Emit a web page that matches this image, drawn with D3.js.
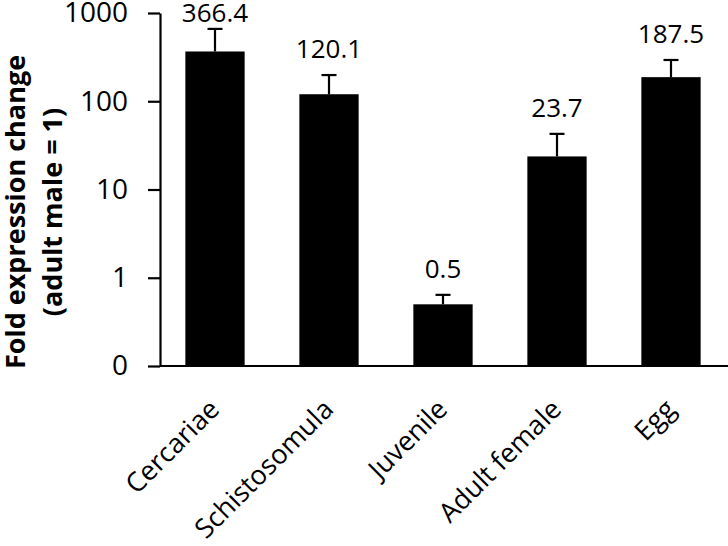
<!DOCTYPE html>
<html>
<head>
<meta charset="utf-8">
<script src="https://cdn.jsdelivr.net/npm/d3@7"></script>
<style>
  html, body { margin: 0; padding: 0; background: #fff; }
  svg { display: block; }
  text { font-family: "Open Sans", "Noto Sans", sans-serif; fill: #000; }
</style>
</head>
<body>
<svg id="chart" width="728" height="546"></svg>
<script>
// ---- data ----
const categories = ["Cercariae", "Schistosomula", "Juvenile", "Adult female", "Egg"];
const values = [366.4, 120.1, 0.5, 23.7, 187.5];
const errors = [294, 78, 0.14, 19, 106];
const valueLabels = ["366.4", "120.1", "0.5", "23.7", "187.5"];
const yTickValues = [0.1, 1, 10, 100, 1000];
const yTickLabels = ["0", "1", "10", "100", "1000"];
const yTitleLines = ["Fold expression change", "(adult male = 1)"];

// ---- layout ----
const svg = d3.select("#chart");
const axisX = 160, baseY = 366, topY = 13, rightX = 728;

const y = d3.scaleLog().domain([0.1, 1000]).range([baseY, topY]);
const x = d3.scaleBand().domain(categories).range([158, 728])
  .paddingInner(0.48).paddingOuter(0.24);

const fs = 27;

// bars
svg.append("g").selectAll("rect").data(categories).join("rect")
  .attr("x", d => x(d))
  .attr("width", x.bandwidth())
  .attr("y", (d, i) => y(values[i]))
  .attr("height", (d, i) => baseY - y(values[i]))
  .attr("fill", "#000");

// error bars (upper only)
const eg = svg.append("g").attr("stroke", "#000").attr("stroke-width", 2.2);
categories.forEach((c, i) => {
  const cx = x(c) + x.bandwidth() / 2;
  const yt = y(values[i] + errors[i]);
  eg.append("line").attr("x1", cx).attr("x2", cx)
    .attr("y1", y(values[i])).attr("y2", yt);
  eg.append("line").attr("x1", cx - 7.5).attr("x2", cx + 7.5)
    .attr("y1", yt).attr("y2", yt);
});

// value labels
svg.append("g").selectAll("text").data(categories).join("text")
  .attr("x", d => x(d) + x.bandwidth() / 2)
  .attr("y", (d, i) => Math.max(22, y(values[i] + errors[i]) - 17))
  .attr("text-anchor", "middle")
  .attr("font-size", 26)
  .text((d, i) => valueLabels[i]);

// y axis
const yAxis = d3.axisLeft(y)
  .tickValues(yTickValues)
  .tickFormat((d, i) => yTickLabels[i])
  .tickSize(12).tickSizeOuter(0).tickPadding(20);
const gy = svg.append("g").attr("transform", `translate(${axisX},0)`).call(yAxis);
gy.selectAll("path, line").attr("stroke", "#000").attr("stroke-width", 2.2);
gy.selectAll("text").attr("font-size", 28).attr("font-family", null).attr("fill", "#000");

// x axis
const xAxis = d3.axisBottom(x).tickSize(0).tickSizeOuter(0);
const gx = svg.append("g").attr("transform", `translate(0,${baseY})`).call(xAxis);
gx.select(".domain").remove();
gx.selectAll("text")
  .attr("font-size", fs).attr("font-family", null).attr("fill", "#000")
  .attr("x", 0).attr("y", 0).attr("dy", null)
  .attr("text-anchor", "end")
  .attr("transform", "translate(6,45) rotate(-45)");
svg.append("line")
  .attr("x1", axisX).attr("x2", rightX)
  .attr("y1", baseY).attr("y2", baseY)
  .attr("stroke", "#000").attr("stroke-width", 2.2);

// y title
const titleX = [25, 62];
yTitleLines.forEach((t, i) => {
  svg.append("text")
    .attr("transform", `translate(${titleX[i]},212) rotate(-90)`)
    .attr("text-anchor", "middle")
    .attr("font-size", fs)
    .attr("font-weight", "bold")
    .text(t);
});
</script>
</body>
</html>
